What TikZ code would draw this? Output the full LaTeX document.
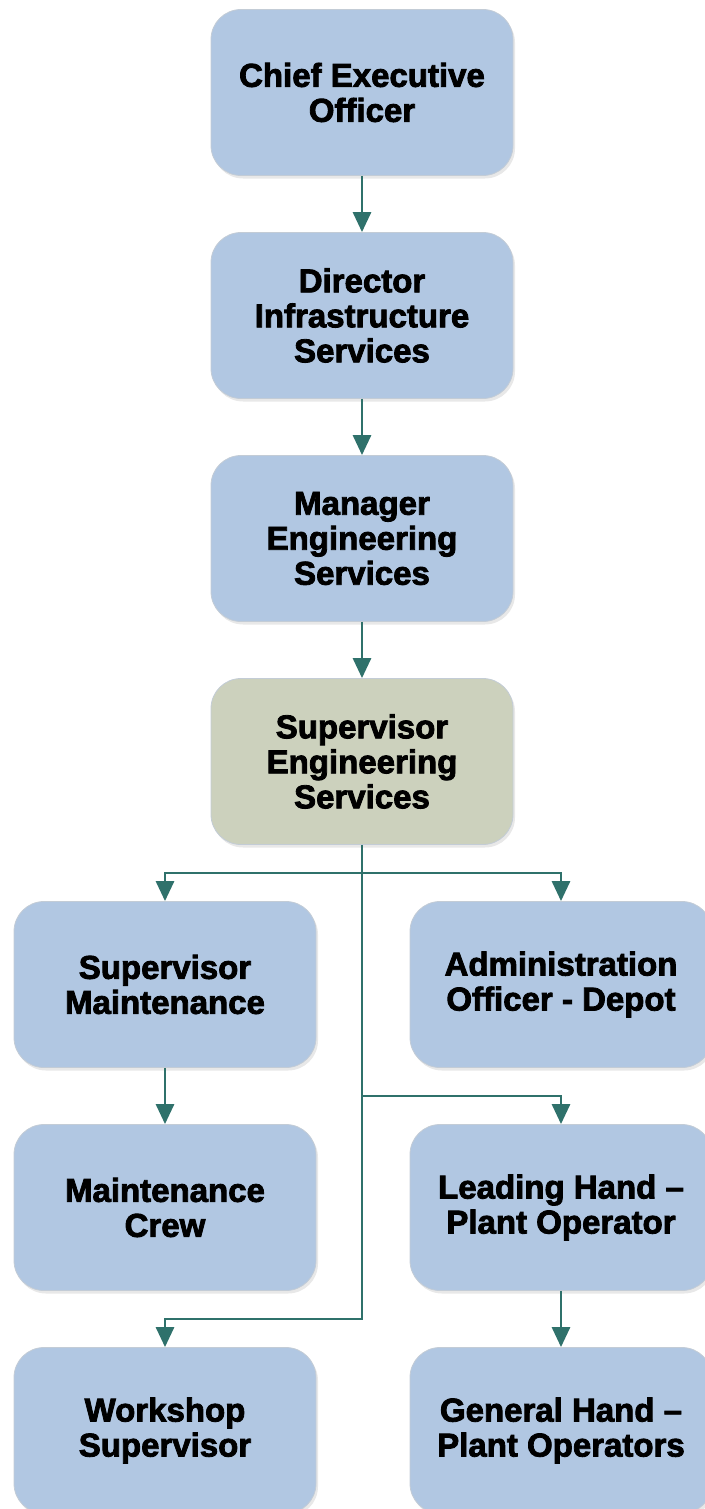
\documentclass[tikz,border=0pt]{standalone}
\usepackage{fontspec}
\setmainfont{Liberation Sans}[BoldFeatures={FakeBold=2.5}]
\usepackage{tikz}
\usetikzlibrary{positioning, calc, shadows, arrows.meta}
\definecolor{boxblue}{HTML}{B1C7E2}
\definecolor{boxgreen}{HTML}{CCD1BD}
\definecolor{linkteal}{HTML}{2F716B}
\definecolor{boxedge}{HTML}{C3CCD6}

\begin{document}
\begin{tikzpicture}[node distance=223pt,on grid,
   role/.style={rectangle, rounded corners=30pt, draw=boxedge, line width=0.8pt, fill=boxblue,
      minimum width=302pt, minimum height=166pt, align=center,
      font=\bfseries\fontsize{33}{35}\selectfont,
      drop shadow={opacity=0.18, shadow xshift=2pt, shadow yshift=-3pt}},
   link/.style={draw=linkteal, line width=2.9pt},
   arr/.style={link, -{Triangle[width=18pt,length=20pt]}}]
   \useasboundingbox (0,0) rectangle (704pt,-1509pt);
   \node[role] (ceo) at (362pt,-92.5pt) {Chief Executive\\Officer};
   \node[role] (dir) [below=of ceo] {Director\\Infrastructure\\Services};
   \node[role] (mgr) [below=of dir] {Manager\\Engineering\\Services};
   \node[role, fill=boxgreen] (sup) [below=of mgr] {Supervisor\\Engineering\\Services};
   \node[role] (smaint) [below=of sup, xshift=-197pt] {Supervisor\\Maintenance};
   \node[role] (admin) [below=of sup, xshift=199pt] {Administration\\Officer - Depot};
   \node[role] (crew) [below=of smaint] {Maintenance\\Crew};
   \node[role] (lead) [below=of admin] {Leading Hand \textendash\\Plant Operator};
   \node[role] (shop) [below=of crew] {Workshop\\Supervisor};
   \node[role] (gen) [below=of lead] {General Hand \textendash\\Plant Operators};

   \coordinate (split1) at ($(sup.south)!0.5!(sup.south |- smaint.north)$);
   \coordinate (split2) at ($(sup.south |- admin.south)!0.5!(sup.south |- lead.north)$);
   \coordinate (split3) at ($(sup.south |- crew.south)!0.5!(sup.south |- shop.north)$);

   \draw[arr] (ceo.south) -- (dir.north);
   \draw[arr] (dir.south) -- (mgr.north);
   \draw[arr] (mgr.south) -- (sup.north);
   \draw[arr] (sup.south) -- (split3) -| (shop.north);
   \draw[arr] (split1) -| (smaint.north);
   \draw[arr] (split1) -| (admin.north);
   \draw[arr] (split2) -| (lead.north);
   \draw[arr] (smaint.south) -- (crew.north);
   \draw[arr] (lead.south) -- (gen.north);
\end{tikzpicture}
\end{document}
